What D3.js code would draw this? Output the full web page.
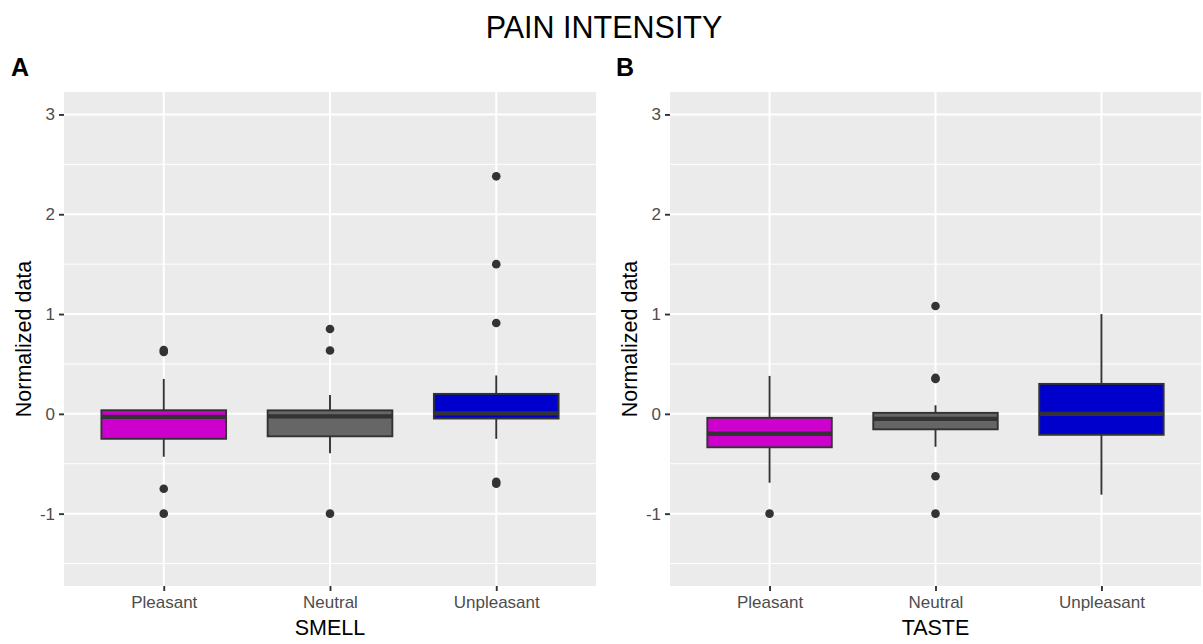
<!DOCTYPE html>
<html>
<head>
<meta charset="utf-8">
<script src="https://cdn.jsdelivr.net/npm/d3@7"></script>
<style>
  html, body { margin: 0; padding: 0; background: #ffffff; }
  svg text { font-family: "Liberation Sans", Arial, sans-serif; }
</style>
</head>
<body>
<svg id="chart" width="1203" height="644"></svg>
<script>
// ---- Data ----
const categories = ["Pleasant", "Neutral", "Unpleasant"];
const fillColors = ["#CD00CD", "#666666", "#0000CD"];
const yTicks = [-1, 0, 1, 2, 3];
const yMinor = [-1.5, -0.5, 0.5, 1.5, 2.5];
const yLimits = [-1.5, 3];

// SMELL panel (A) box statistics: [whiskerLow, q1, median, q3, whiskerHigh]
const smellStats = [
  [-0.43, -0.25, -0.03, 0.036, 0.35],
  [-0.395, -0.225, -0.025, 0.035, 0.19],
  [-0.25, -0.047, 0.005, 0.20, 0.385]
];
const smellOutliers = [
  [0.62, 0.64, -0.75, -1.0],
  [0.85, 0.635, -1.0],
  [2.38, 1.50, 0.91, -0.68, -0.70]
];

// TASTE panel (B) box statistics
const tasteStats = [
  [-0.69, -0.335, -0.20, -0.04, 0.38],
  [-0.33, -0.155, -0.05, 0.01, 0.086],
  [-0.81, -0.21, 0.0, 0.30, 1.0]
];
const tasteOutliers = [
  [-1.0],
  [1.08, 0.35, 0.36, -0.625, -1.0],
  []
];

const panelLabels = ["A", "B"];
const xTitles = ["SMELL", "TASTE"];
const yTitle = "Normalized data";
const mainTitle = "PAIN INTENSITY";

// ---- Layout ----
const svg = d3.select("#chart");
const plotTop = 92, plotBottom = 586;
const panels = [
  { left: 64, right: 596, stats: smellStats, outliers: smellOutliers, label: panelLabels[0], labelX: 11, xTitle: xTitles[0] },
  { left: 670, right: 1201, stats: tasteStats, outliers: tasteOutliers, label: panelLabels[1], labelX: 616, xTitle: xTitles[1] }
];

svg.append("rect").attr("width", 1203).attr("height", 644).attr("fill", "#ffffff");

svg.append("text")
  .attr("x", 604).attr("y", 38)
  .attr("text-anchor", "middle")
  .attr("font-size", 30.5)
  .attr("fill", "#000")
  .text(mainTitle);

const span = yLimits[1] - yLimits[0];
const y = d3.scaleLinear()
  .domain([yLimits[0] - 0.05 * span, yLimits[1] + 0.05 * span])
  .range([plotBottom, plotTop]);

panels.forEach(p => {
  const g = svg.append("g");
  const x = d3.scalePoint().domain(categories).range([p.left, p.right]).padding(0.6);
  const boxW = x.step() * 0.75;

  // panel background
  g.append("rect")
    .attr("x", p.left).attr("y", plotTop)
    .attr("width", p.right - p.left).attr("height", plotBottom - plotTop)
    .attr("fill", "#EBEBEB");

  // minor gridlines
  g.selectAll(".minor").data(yMinor).join("line")
    .attr("x1", p.left).attr("x2", p.right)
    .attr("y1", d => y(d)).attr("y2", d => y(d))
    .attr("stroke", "#ffffff").attr("stroke-width", 1);

  // major gridlines
  g.selectAll(".majorY").data(yTicks).join("line")
    .attr("x1", p.left).attr("x2", p.right)
    .attr("y1", d => y(d)).attr("y2", d => y(d))
    .attr("stroke", "#ffffff").attr("stroke-width", 2);
  g.selectAll(".majorX").data(categories).join("line")
    .attr("x1", d => x(d)).attr("x2", d => x(d))
    .attr("y1", plotTop).attr("y2", plotBottom)
    .attr("stroke", "#ffffff").attr("stroke-width", 2);

  // boxes
  categories.forEach((c, i) => {
    const [wl, q1, med, q3, wh] = p.stats[i];
    const cx = x(c);
    const bg = g.append("g");
    bg.append("line")
      .attr("x1", cx).attr("x2", cx).attr("y1", y(wh)).attr("y2", y(q3))
      .attr("stroke", "#333333").attr("stroke-width", 1.9);
    bg.append("line")
      .attr("x1", cx).attr("x2", cx).attr("y1", y(q1)).attr("y2", y(wl))
      .attr("stroke", "#333333").attr("stroke-width", 1.9);
    bg.append("rect")
      .attr("x", cx - boxW / 2).attr("y", y(q3))
      .attr("width", boxW).attr("height", y(q1) - y(q3))
      .attr("fill", fillColors[i])
      .attr("stroke", "#333333").attr("stroke-width", 1.9);
    bg.append("line")
      .attr("x1", cx - boxW / 2).attr("x2", cx + boxW / 2)
      .attr("y1", y(med)).attr("y2", y(med))
      .attr("stroke", "#333333").attr("stroke-width", 4.4);
    bg.selectAll("circle").data(p.outliers[i]).join("circle")
      .attr("cx", cx).attr("cy", d => y(d)).attr("r", 4.3)
      .attr("fill", "#333333");
  });

  // y axis
  const yAxis = d3.axisLeft(y).tickValues(yTicks).tickSize(5).tickPadding(4)
    .tickFormat(d3.format("d"));
  const ya = g.append("g").attr("transform", `translate(${p.left},0)`).call(yAxis);
  ya.select(".domain").remove();
  ya.selectAll(".tick line").attr("stroke", "#333333").attr("stroke-width", 1.9);
  ya.selectAll(".tick text")
    .attr("font-size", 17).attr("fill", "#4D4D4D")
    .attr("font-family", "Liberation Sans, Arial, sans-serif")
    .text(d => d < 0 ? "-" + Math.abs(d) : d);

  // x axis
  const xAxis = d3.axisBottom(x).tickSize(5).tickPadding(5);
  const xa = g.append("g").attr("transform", `translate(0,${plotBottom})`).call(xAxis);
  xa.select(".domain").remove();
  xa.selectAll(".tick line").attr("stroke", "#333333").attr("stroke-width", 1.9);
  xa.selectAll(".tick text")
    .attr("font-size", 17).attr("fill", "#4D4D4D")
    .attr("font-family", "Liberation Sans, Arial, sans-serif");

  // axis titles
  g.append("text")
    .attr("x", (p.left + p.right) / 2).attr("y", 635)
    .attr("text-anchor", "middle").attr("font-size", 21.5).attr("fill", "#000")
    .text(p.xTitle);
  g.append("text")
    .attr("transform", `translate(${p.left - 33},${(plotTop + plotBottom) / 2}) rotate(-90)`)
    .attr("text-anchor", "middle").attr("font-size", 21.5).attr("fill", "#000")
    .text(yTitle);

  // panel tag
  g.append("text")
    .attr("x", p.labelX).attr("y", 76)
    .attr("font-size", 25).attr("font-weight", "bold").attr("fill", "#000")
    .text(p.label);
});
</script>
</body>
</html>
